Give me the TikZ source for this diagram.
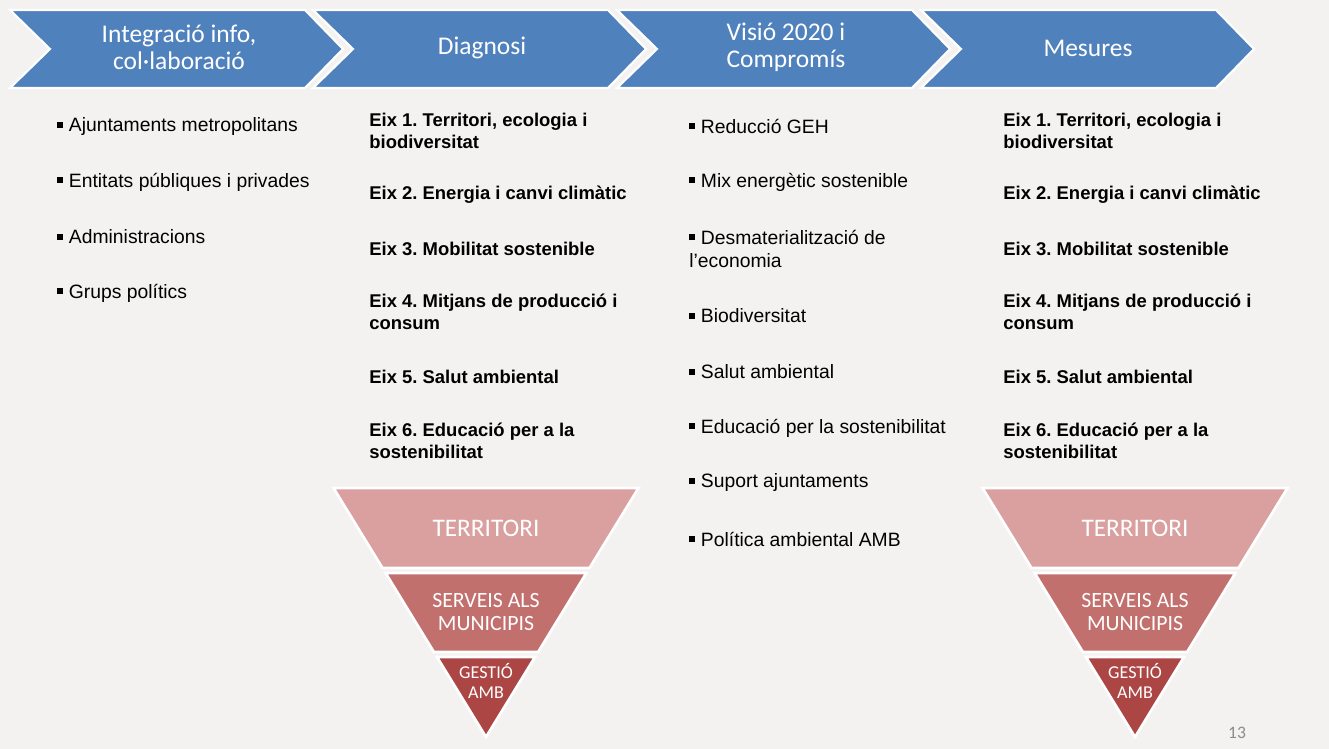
\documentclass[tikz,border=0pt]{standalone}
\usepackage{fontspec}
\setmainfont{Liberation Sans}
\newfontfamily\calibri{Carlito}
\usetikzlibrary{positioning}

\definecolor{chevblue}{HTML}{4F81BD}
\definecolor{slidebg}{HTML}{F3F2F0}
\definecolor{pyrtop}{HTML}{D9A09F}
\definecolor{pyrmid}{HTML}{C2706E}
\definecolor{pyrlow}{HTML}{AB4644}
\definecolor{pagegray}{HTML}{8C8C8C}

\newcommand{\sqbul}{\rule[0.2em]{0.3em}{0.3em}\hspace{0.3em}}
\frenchspacing

\begin{document}
\begin{tikzpicture}
	[x=0.02cm, y=-0.02cm,
	 chev/.style={fill=chevblue, draw=white, line width=1.2pt, line join=miter},
	 chevtext/.style={text=white, align=center, inner sep=0pt,
	   font=\calibri\fontsize{14.5}{15.5}\selectfont},
	 item/.style={anchor=west, align=left, inner sep=0pt,
	   font=\fontsize{11}{13.5}\selectfont},
	 eix/.style={anchor=west, align=left, inner sep=0pt,
	   font=\bfseries\fontsize{10.5}{12.5}\selectfont},
	 layer/.style={draw=white, line width=1.5pt, line join=miter},
	 pyrtext/.style={text=white, align=center, inner sep=0pt, font=\calibri}]
   % slide background
   \fill[slidebg] (0,0) rectangle (1329,749);
   % chevrons
   \foreach \x in {10,313,617,921}
      \draw[chev] (\x,10) -- ++(295,0) -- ++(38,39) -- ++(-38,39)
         -- ++(-295,0) -- ++(40,-39) -- cycle;
   \node[chevtext] (ch1) at (179,47) {Integració info,\\col·laboració};
   \node[chevtext] (ch2) at (482,48) {Diagnosi};
   \node[chevtext] (ch3) at (786,47) {Visió 2020 i\\Compromís};
   \node[chevtext] (ch4) at (1088,48) {Mesures};
   % agents
   \node[item] (ag1) at (57,127) {\sqbul Ajuntaments metropolitans};
   \node[item] (ag2) at (57,182) {\sqbul Entitats públiques i privades};
   \node[item] (ag3) at (57,237) {\sqbul Administracions};
   \node[item] (ag4) at (57,293) {\sqbul Grups polítics};
   % eixos (diagnosi and mesures)
   \foreach \x/\c in {369/dg,1003/ms}
      \foreach \y/\t [count=\k] in {131/{Eix 1. Territori, ecologia i\\biodiversitat},
            195/{Eix 2. Energia i canvi climàtic},
            249/{Eix 3. Mobilitat sostenible},
            312/{Eix 4. Mitjans de producció i\\consum},
            377/{Eix 5. Salut ambiental},
            441/{Eix 6. Educació per a la\\sostenibilitat}}
         \node[eix] (\c\k) at (\x,\y) {\t};
   % visio
   \node[item] (vs1) at (689,126) {\sqbul Reducció GEH};
   \node[item] (vs2) at (689,182) {\sqbul Mix energètic sostenible};
   \node[item] (vs3) at (689,249) {\sqbul Desmaterialització de\\l’economia};
   \node[item] (vs4) at (689,316) {\sqbul Biodiversitat};
   \node[item] (vs5) at (689,372) {\sqbul Salut ambiental};
   \node[item] (vs6) at (689,428) {\sqbul Educació per la sostenibilitat};
   \node[item] (vs7) at (689,483) {\sqbul Suport ajuntaments};
   \node[item] (vs8) at (689,539) {\sqbul Política ambiental AMB};
   % pyramids
   \foreach \cx/\n in {486/1,1135/2} {
      \draw[layer, fill=pyrtop] (\cx-152.5,488) -- (\cx+152.5,488)
         -- (\cx+103.5,568) -- (\cx-103.5,568) -- cycle;
      \draw[layer, fill=pyrmid] (\cx-100.4,573) -- (\cx+100.4,573)
         -- (\cx+52.1,652) -- (\cx-52.1,652) -- cycle;
      \draw[layer, fill=pyrlow] (\cx-49,657) -- (\cx+49,657)
         -- (\cx,737) -- cycle;
      \node[pyrtext, font=\calibri\fontsize{14.4}{16}\selectfont] (terr\n) at (\cx,528) {TERRITORI};
      \node[pyrtext, font=\calibri\fontsize{12.4}{13.2}\selectfont] (serv\n) at (\cx,612) {SERVEIS ALS\\MUNICIPIS};
      \node[pyrtext, font=\calibri\fontsize{10.3}{10.9}\selectfont] (gest\n) at (\cx,681) {GESTIÓ\\AMB};
   }
   % page number
   \node[text=pagegray, font=\calibri\fontsize{10}{12}\selectfont] (page) at (1237,733) {13};
\end{tikzpicture}
\end{document}
